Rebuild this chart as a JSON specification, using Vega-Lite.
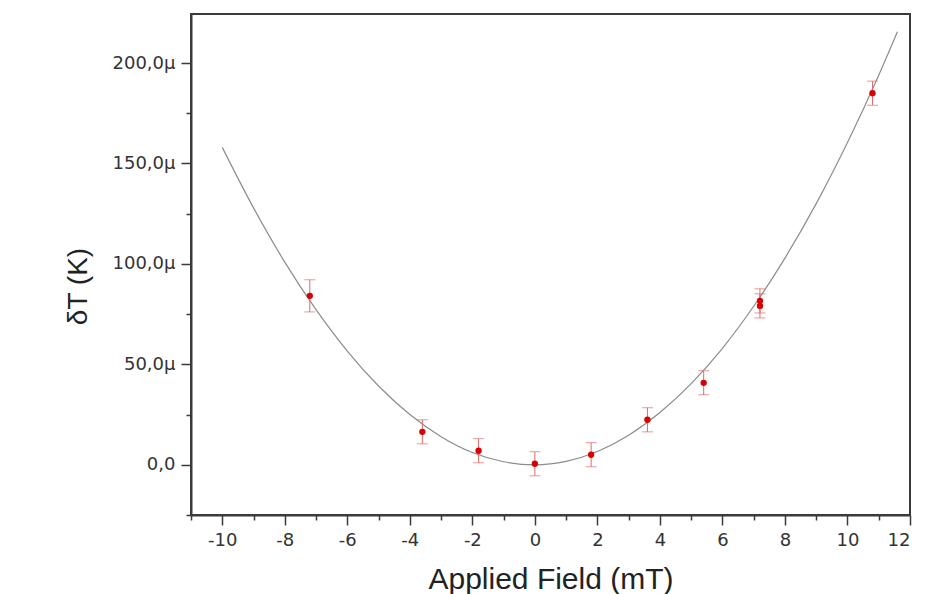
{
  "$schema": "https://vega.github.io/schema/vega-lite/v6.json",
  "width": 719,
  "height": 501,
  "autosize": "none",
  "padding": {"left": 191, "top": 14, "right": 40, "bottom": 79},
  "background": "white",
  "config": {
    "view": {"stroke": "#3a3a3a", "strokeWidth": 2},
    "font": "Liberation Sans",
    "axis": {
      "grid": false,
      "domainColor": "#3a3a3a",
      "domainWidth": 2,
      "tickColor": "#3a3a3a",
      "tickWidth": 1.5,
      "labelFont": "DejaVu Sans",
      "labelFontSize": 18,
      "labelColor": "#333333",
      "titleFont": "Liberation Sans",
      "titleFontSize": 30,
      "titleFontWeight": "normal",
      "titleColor": "#222222"
    }
  },
  "datasets": {
    "fit": [
      {"x": -10, "y": 158.0},
      {"x": -9, "y": 127.9},
      {"x": -8, "y": 100.9},
      {"x": -7, "y": 77.2},
      {"x": -6, "y": 56.6},
      {"x": -5, "y": 39.2},
      {"x": -4, "y": 25.0},
      {"x": -3, "y": 14.0},
      {"x": -2, "y": 6.1},
      {"x": -1, "y": 1.5},
      {"x": 0, "y": 0.0},
      {"x": 1, "y": 1.7},
      {"x": 2, "y": 6.6},
      {"x": 3, "y": 14.7},
      {"x": 4, "y": 26.0},
      {"x": 5, "y": 40.4},
      {"x": 6, "y": 58.0},
      {"x": 7, "y": 78.9},
      {"x": 8, "y": 102.9},
      {"x": 9, "y": 130.0},
      {"x": 10, "y": 160.4},
      {"x": 11, "y": 193.9},
      {"x": 11.6, "y": 215.6}
    ],
    "meas": [
      {"x": -7.2, "y": 84.1, "lo": 76.1, "hi": 92.1},
      {"x": -3.6, "y": 16.4, "lo": 10.4, "hi": 22.4},
      {"x": -1.8, "y": 7.0, "lo": 1.0, "hi": 13.0},
      {"x": 0.0, "y": 0.5, "lo": -5.5, "hi": 6.5},
      {"x": 1.8, "y": 5.0, "lo": -1.0, "hi": 11.0},
      {"x": 3.6, "y": 22.4, "lo": 16.4, "hi": 28.4},
      {"x": 5.4, "y": 40.8, "lo": 34.8, "hi": 46.8},
      {"x": 7.2, "y": 81.6, "lo": 75.6, "hi": 87.6},
      {"x": 7.2, "y": 79.1, "lo": 73.1, "hi": 85.1},
      {"x": 10.8, "y": 185.0, "lo": 179.0, "hi": 191.0}
    ]
  },
  "resolve": {"axis": {"x": "independent", "y": "independent"}},
  "layer": [
    {
      "data": {"name": "fit"},
      "mark": {"type": "line", "color": "#8c8c8c", "strokeWidth": 1.2, "interpolate": "monotone"},
      "encoding": {
        "x": {
          "field": "x", "type": "quantitative",
          "scale": {"domain": [-11, 12], "nice": false, "zero": false},
          "axis": {
            "orient": "bottom",
            "title": "Applied Field (mT)",
            "values": [-10, -8, -6, -4, -2, 0, 2, 4, 6, 8, 10, 12],
            "labelExpr": "'' + datum.value",
            "tickSize": 10,
            "labelPadding": 6,
            "titleY": 73,
            "titleBaseline": "alphabetic"
          }
        },
        "y": {
          "field": "y", "type": "quantitative",
          "scale": {"domain": [-25, 224.4], "nice": false, "zero": false},
          "axis": {
            "orient": "left",
            "title": "δT (K)",
            "values": [0, 50, 100, 150, 200],
            "labelExpr": "datum.value == 0 ? '0,0' : datum.value + ',0μ'",
            "tickSize": 10,
            "labelPadding": 6,
            "titleFontSize": 28,
            "titleX": -105,
            "titleY": 272,
            "titleBaseline": "alphabetic",
            "titleAlign": "center",
            "titleAngle": -90
          }
        }
      }
    },
    {
      "data": {"name": "meas"},
      "mark": {"type": "errorbar", "color": "#e06a6a", "thickness": 1, "ticks": {"size": 11, "thickness": 1, "color": "#e06a6a"}},
      "encoding": {
        "x": {"field": "x", "type": "quantitative", "axis": null},
        "y": {"field": "lo", "type": "quantitative", "axis": null},
        "y2": {"field": "hi"}
      }
    },
    {
      "data": {"name": "meas"},
      "mark": {"type": "point", "filled": true, "color": "#d80000", "size": 40, "opacity": 1},
      "encoding": {
        "x": {
          "field": "x", "type": "quantitative",
          "axis": {
            "orient": "bottom", "title": null, "labels": false, "domain": false,
            "values": [-11, -9, -7, -5, -3, -1, 1, 3, 5, 7, 9, 11],
            "tickSize": 5
          }
        },
        "y": {
          "field": "y", "type": "quantitative",
          "axis": {
            "orient": "left", "title": null, "labels": false, "domain": false,
            "values": [-25, 25, 75, 125, 175],
            "tickSize": 5
          }
        }
      }
    }
  ]
}
